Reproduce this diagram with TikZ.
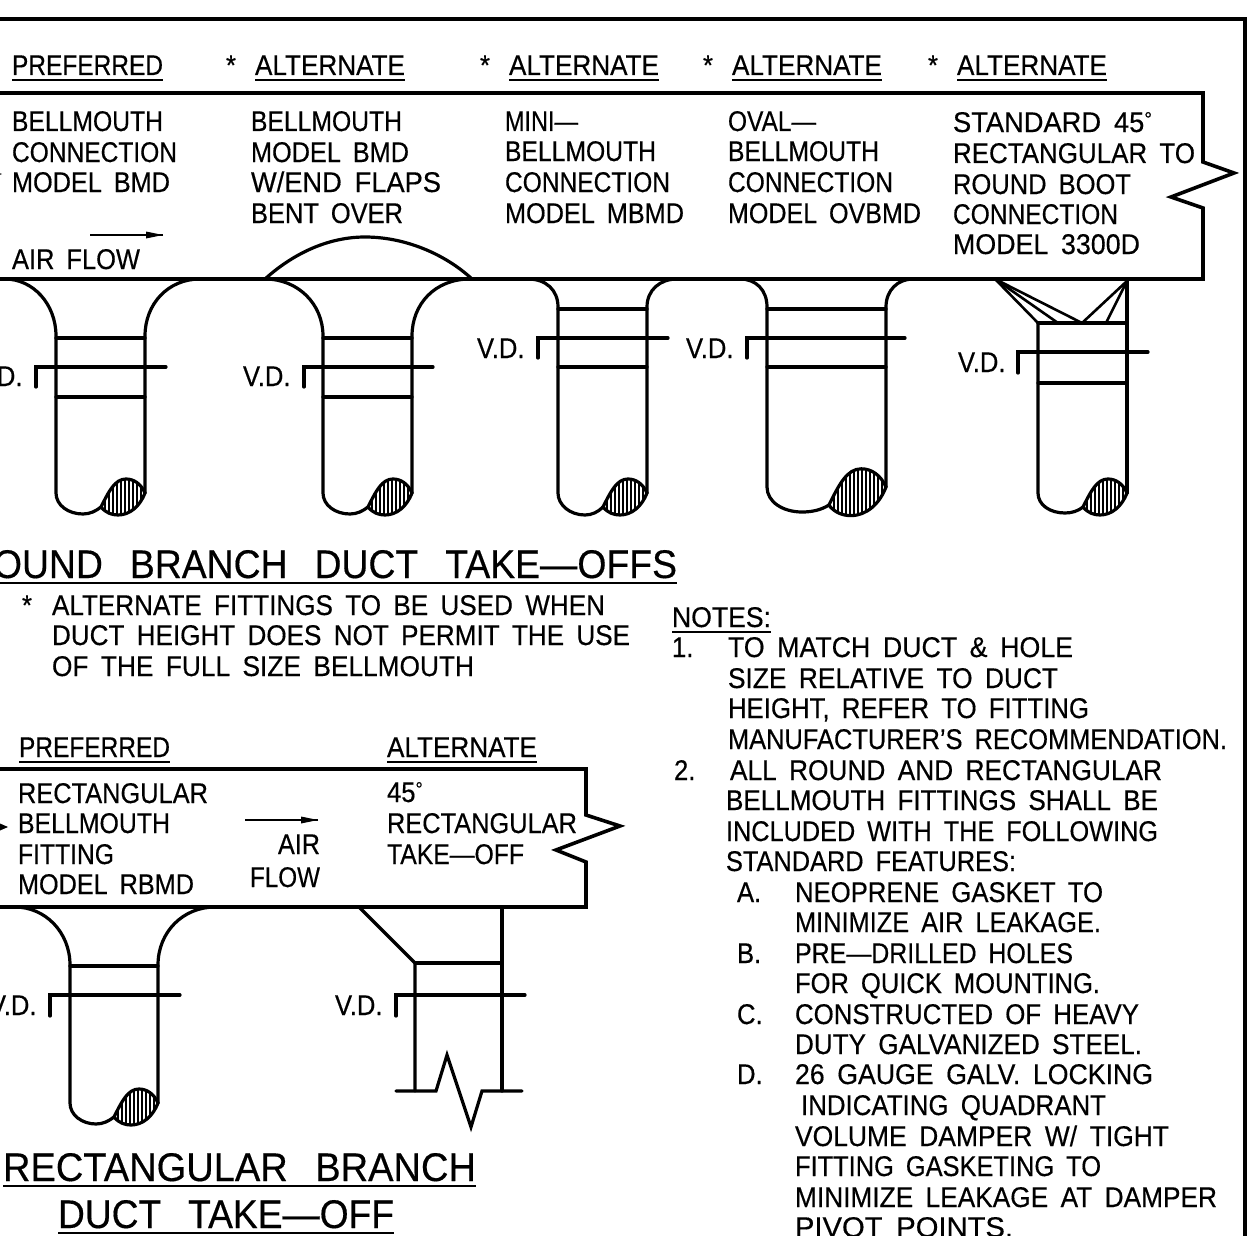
\documentclass[tikz,border=0pt]{standalone}
\usepackage{graphicx}
\usepackage{fontspec}
\setmainfont[FakeStretch=0.9,WordSpace=1.7,FakeBold=0.4]{Liberation Sans}
\newfontfamily\titlefont[FakeStretch=0.95,WordSpace=2.6,FakeBold=0.4]{Liberation Sans}
\newcommand\dg{{\fontsize{20}{20}\selectfont\raisebox{6pt}{°}}}
\newcommand\fw[2]{\resizebox{#1pt}{\height}{#2}}
\tikzset{
  x=1pt,y=-1pt,
  txt/.style={anchor=base west,inner sep=0pt,outer sep=0pt,font=\fontsize{28.5}{30}\selectfont},
  ttl/.style={anchor=base west,inner sep=0pt,outer sep=0pt,font=\titlefont\fontsize{40}{42}\selectfont},
  ln/.style={line width=3.2pt,line cap=round,line join=miter},
  thk/.style={line width=3.6pt,line cap=butt,line join=miter},
  ulin/.style={line width=2pt},
}
\newcommand\ulnode[1]{\draw[ulin] ([yshift=-5pt]#1.base west) -- ([yshift=-5pt]#1.base east);}
% #1,#2 = lower end of the right wall, #3 = scale
\newcommand\blob[3]{%
  \begin{scope}[shift={(#1,#2)},scale=#3]
    \begin{scope}
      \clip (0,0) .. controls (-4,-9) and (-11,-14) .. (-19,-14) .. controls (-30,-14) and (-36,-2) .. (-44,14)
        .. controls (-39,20) and (-33,22) .. (-27,22) .. controls (-15,22) and (-5,13) .. (0,0) -- cycle;
      \foreach \i in {-60,-56,...,4} \draw[line width=2.3pt] (\i/#3,-30) -- (\i/#3,30);
    \end{scope}
    \draw[ln] (0,0) .. controls (-4,-9) and (-11,-14) .. (-19,-14) .. controls (-30,-14) and (-36,-2) .. (-44,14)
        .. controls (-39,20) and (-33,22) .. (-27,22) .. controls (-15,22) and (-5,13) .. (0,0) -- cycle;
  \end{scope}}
\begin{document}
\begin{tikzpicture}
\useasboundingbox (0,0) rectangle (1247,1236);
\clip (0,0) rectangle (1247,1236);
\fill[white] (0,0) rectangle (1247,1236);
% sheet frame
\draw[line width=4.5pt] (0,19) -- (1245,19) -- (1245,1236);
% upper box
\draw[thk] (0,93) -- (1203,93) -- (1203,162) -- (1234,173) -- (1171,197) -- (1203,208) -- (1203,279) -- (0,279);
% headers
\node[txt] (h1) at (12,75) {\fw{151}{PREFERRED}}; \ulnode{h1}
\node[txt] (s2) at (226,75) {*}; \node[txt] (h2) at (255,75) {\fw{150}{ALTERNATE}}; \ulnode{h2}
\node[txt] (s3) at (480,75) {*}; \node[txt] (h3) at (509,75) {\fw{150}{ALTERNATE}}; \ulnode{h3}
\node[txt] (s4) at (703,75) {*}; \node[txt] (h4) at (732,75) {\fw{150}{ALTERNATE}}; \ulnode{h4}
\node[txt] (s5) at (928,75) {*}; \node[txt] (h5) at (957,75) {\fw{150}{ALTERNATE}}; \ulnode{h5}
% column texts
\node[txt] (a1) at (12,131) {\fw{151}{BELLMOUTH}};
\node[txt] (a2) at (12,162) {\fw{165}{CONNECTION}};
\node[txt] (a3) at (12,192) {\fw{158}{MODEL BMD}};
\node[txt] (b1) at (251,131) {\fw{151}{BELLMOUTH}};
\node[txt] (b2) at (251,162) {\fw{158}{MODEL BMD}};
\node[txt] (b3) at (251,192) {\fw{190}{W/END FLAPS}};
\node[txt] (b4) at (251,223) {\fw{152}{BENT OVER}};
\node[txt] (c1) at (505,131) {\fw{73}{MINI—}};
\node[txt] (c2) at (505,161) {\fw{151}{BELLMOUTH}};
\node[txt] (c3) at (505,192) {\fw{165}{CONNECTION}};
\node[txt] (c4) at (505,223) {\fw{179}{MODEL MBMD}};
\node[txt] (d1) at (728,131) {\fw{88}{OVAL—}};
\node[txt] (d2) at (728,161) {\fw{151}{BELLMOUTH}};
\node[txt] (d3) at (728,192) {\fw{165}{CONNECTION}};
\node[txt] (d4) at (728,223) {\fw{193}{MODEL OVBMD}};
\node[txt] (e1) at (953,132) {\fw{199}{STANDARD 45\dg}};
\node[txt] (e2) at (953,163) {\fw{242}{RECTANGULAR TO}};
\node[txt] (e3) at (953,194) {\fw{178}{ROUND BOOT}};
\node[txt] (e4) at (953,224) {\fw{165}{CONNECTION}};
\node[txt] (e5) at (953,254) {\fw{187}{MODEL 3300D}};
\node[txt] (af) at (12,269) {\fw{128}{AIR FLOW}};
\coordinate (af1) at (90,235); \coordinate (af2) at (163,235);
\draw[line width=1.8pt] (af1) -- (af2);
\fill (163,235) -- (146,231.5) -- (146,238.5) -- cycle;
\fill (2,174) -- (-6,171) -- (-6,177) -- cycle;
% fitting 1
\draw[ln] (5,279) .. controls (33,279) and (56,304) .. (56,336) -- (56,493)
  .. controls (56,505) and (68,514) .. (83,514) .. controls (90,514) and (96,511) .. (101,507);
\draw[ln] (200,279) .. controls (168,279) and (145,304) .. (145,336) -- (145,493);
\draw[ln] (56,338) -- (145,338); \draw[ln] (56,397) -- (145,397);
\draw[ln] (36,387) -- (36,367) -- (166,367);
\node[txt] (v1) at (-25,386) {V.D.};
\blob{145}{493}{1}
% fitting 2
\draw[ln] (265,279) .. controls (295,252) and (330,237) .. (365,237) .. controls (405,237) and (445,254) .. (472,279);
\draw[ln] (265,279) .. controls (298,279) and (323,304) .. (323,336) -- (323,493)
  .. controls (323,505) and (335,514) .. (350,514) .. controls (357,514) and (363,511) .. (368,507);
\draw[ln] (470,279) .. controls (435,279) and (412,304) .. (412,336) -- (412,493);
\draw[ln] (323,338) -- (412,338); \draw[ln] (323,397) -- (412,397);
\draw[ln] (304,387) -- (304,367) -- (433,367);
\node[txt] (v2) at (243,386) {V.D.};
\blob{412}{493}{1}
% fitting 3
\draw[ln] (528,279) .. controls (546,279) and (558,290) .. (558,307) -- (558,493)
  .. controls (558,505) and (570,515) .. (585,515) .. controls (592,515) and (598,512) .. (603,507);
\draw[ln] (677,279) .. controls (660,279) and (647,290) .. (647,307) -- (647,493);
\draw[ln] (558,309) -- (647,309); \draw[ln] (558,367) -- (647,367);
\draw[ln] (538,358) -- (538,338) -- (668,338);
\node[txt] (v3) at (477,358) {V.D.};
\blob{647}{493}{1}
% fitting 4
\draw[ln] (740,279) .. controls (756,279) and (767,290) .. (767,307) -- (767,487)
  .. controls (767,502) and (783,512) .. (802,512) .. controls (812,512) and (821,510) .. (829,505);
\draw[ln] (913,279) .. controls (898,279) and (886,290) .. (886,307) -- (886,487);
\draw[ln] (767,309) -- (886,309); \draw[ln] (767,367) -- (886,367);
\draw[ln] (747,358) -- (747,338) -- (905,338);
\node[txt] (v4) at (686,358) {V.D.};
\blob{886}{487}{1.3}
% fitting 5
\draw[ln] (1127,281) -- (1127,493);
\draw[ln] (1038,323) -- (1038,493) .. controls (1038,505) and (1050,513) .. (1065,513) .. controls (1072,513) and (1078,511) .. (1083,507);
\draw[ln] (1038,323) -- (1127,323); \draw[ln] (1038,383) -- (1127,383);
\draw[line width=2.6pt] (995,279) -- (1038,323);
\draw[line width=2.6pt] (995,279) -- (1058,323);
\draw[line width=2.6pt] (995,279) -- (1082,323);
\draw[line width=2.6pt] (1127,281) -- (1082,323);
\draw[line width=2.6pt] (1127,281) -- (1106,323);
\draw[ln] (1018,373) -- (1018,352) -- (1148,352);
\node[txt] (v5) at (958,372) {V.D.};
\blob{1127}{493}{1}
% title and general note
\node[ttl] (t1) at (-34,578) {\fw{711}{ROUND BRANCH DUCT TAKE—OFFS}}; \ulnode{t1}
\node[txt] (n0) at (22,615) {*};
\node[txt] (n1) at (52,615) {\fw{553}{ALTERNATE FITTINGS TO BE USED WHEN}};
\node[txt] (n2) at (52,645) {\fw{578}{DUCT HEIGHT DOES NOT PERMIT THE USE}};
\node[txt] (n3) at (52,676) {\fw{422}{OF THE FULL SIZE BELLMOUTH}};
% notes
\node[txt] (nt) at (672,627) {\fw{99}{NOTES:}}; \ulnode{nt}
\node[txt] (p1) at (672,657) {1.};
\node[txt] (p1a) at (728,657) {\fw{345}{TO MATCH DUCT \& HOLE}};
\node[txt] (p1b) at (728,688) {\fw{330}{SIZE RELATIVE TO DUCT}};
\node[txt] (p1c) at (728,718) {\fw{361}{HEIGHT, REFER TO FITTING}};
\node[txt] (p1d) at (728,749) {\fw{499}{MANUFACTURER'S RECOMMENDATION.}};
\node[txt] (p2) at (674,780) {2.};
\node[txt] (p2a) at (730,780) {\fw{432}{ALL ROUND AND RECTANGULAR}};
\node[txt] (p2b) at (726,810) {\fw{432}{BELLMOUTH FITTINGS SHALL BE}};
\node[txt] (p2c) at (726,841) {\fw{432}{INCLUDED WITH THE FOLLOWING}};
\node[txt] (p2d) at (726,871) {\fw{290}{STANDARD FEATURES:}};
\node[txt] (qa) at (737,902) {A.};
\node[txt] (qa1) at (795,902) {\fw{308}{NEOPRENE GASKET TO}};
\node[txt] (qa2) at (795,932) {\fw{306}{MINIMIZE AIR LEAKAGE.}};
\node[txt] (qb) at (737,963) {B.};
\node[txt] (qb1) at (795,963) {\fw{278}{PRE—DRILLED HOLES}};
\node[txt] (qb2) at (795,993) {\fw{305}{FOR QUICK MOUNTING.}};
\node[txt] (qc) at (737,1024) {C.};
\node[txt] (qc1) at (795,1024) {\fw{344}{CONSTRUCTED OF HEAVY}};
\node[txt] (qc2) at (795,1054) {\fw{347}{DUTY GALVANIZED STEEL.}};
\node[txt] (qd) at (737,1084) {D.};
\node[txt] (qd1) at (795,1084) {\fw{358}{26 GAUGE GALV. LOCKING}};
\node[txt] (qd2) at (801,1115) {\fw{305}{INDICATING QUADRANT}};
\node[txt] (qd3) at (795,1146) {\fw{374}{VOLUME DAMPER W/ TIGHT}};
\node[txt] (qd4) at (795,1176) {\fw{306}{FITTING GASKETING TO}};
\node[txt] (qd5) at (795,1207) {\fw{422}{MINIMIZE LEAKAGE AT DAMPER}};
\node[txt] (qd6) at (795,1237) {\fw{218}{PIVOT POINTS.}};
% lower box
\node[txt] (h6) at (19,757) {\fw{151}{PREFERRED}}; \ulnode{h6}
\node[txt] (h7) at (387,757) {\fw{150}{ALTERNATE}}; \ulnode{h7}
\draw[thk] (0,769) -- (586,769) -- (586,815) -- (620,826) -- (556,850) -- (586,862) -- (586,907) -- (0,907);
\node[txt] (r1) at (18,803) {\fw{190}{RECTANGULAR}};
\node[txt] (r2) at (18,833) {\fw{152}{BELLMOUTH}};
\node[txt] (r3) at (18,864) {\fw{96}{FITTING}};
\node[txt] (r4) at (18,894) {\fw{176}{MODEL RBMD}};
\node[txt,anchor=base east] (r5) at (320,854) {\fw{42}{AIR}};
\node[txt,anchor=base east] (r6) at (320,887) {\fw{70}{FLOW}};
\node[txt] (r7) at (387,802) {45\dg};
\node[txt] (r8) at (387,833) {\fw{190}{RECTANGULAR}};
\node[txt] (r9) at (387,864) {\fw{137}{TAKE—OFF}};
\draw[line width=1.8pt] (245,820) -- (318,820);
\fill (318,820) -- (301,816.5) -- (301,823.5) -- cycle;
\fill (8,827) -- (-8,820) -- (-8,834) -- cycle;
% rectangular fitting 1
\draw[ln] (15,907) .. controls (45,907) and (70,932) .. (70,965) -- (70,1103)
  .. controls (70,1115) and (82,1124) .. (96,1124) .. controls (103,1124) and (109,1121) .. (114,1117);
\draw[ln] (215,907) .. controls (183,907) and (158,932) .. (158,965) -- (158,1103);
\draw[ln] (70,966) -- (158,966);
\draw[ln] (50,1016) -- (50,995) -- (180,995);
\node[txt] (v6) at (-11,1015) {V.D.};
\blob{158}{1103}{1}
% rectangular take-off
\draw[ln] (359,907) -- (415,963) -- (415,1091);
\draw[ln] (502,907) -- (502,1091);
\draw[ln] (415,963) -- (502,963);
\draw[ln] (396,1016) -- (396,995) -- (525,995);
\node[txt] (v7) at (335,1015) {V.D.};
\draw[ln] (396,1091) -- (436,1091) -- (447,1055) -- (471,1127) -- (482,1091) -- (522,1091);
\node[ttl] (t2) at (3,1181) {\fw{473}{RECTANGULAR BRANCH}}; \ulnode{t2}
\node[ttl] (t3) at (58,1228) {\fw{336}{DUCT TAKE—OFF}}; \ulnode{t3}
\end{tikzpicture}
\end{document}
